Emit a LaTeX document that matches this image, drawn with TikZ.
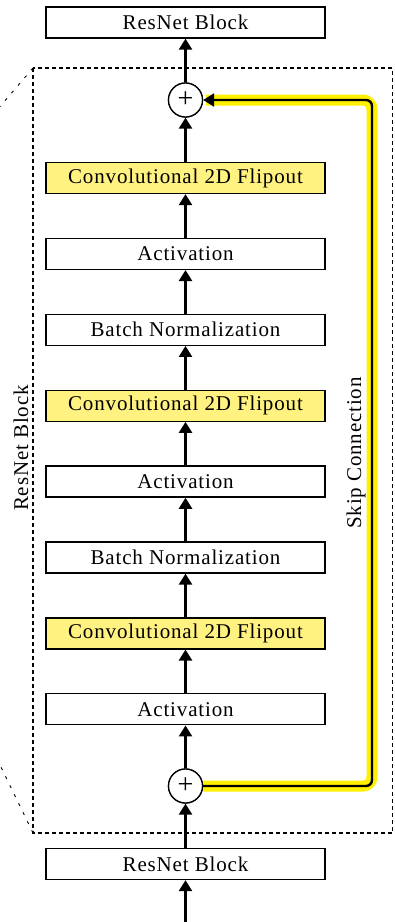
\documentclass[tikz,border=0pt]{standalone}
\usepackage{fontspec}
\setmainfont{Liberation Serif}[LetterSpace=4.0]
\usetikzlibrary{arrows.meta}
\definecolor{convfill}{RGB}{255,242,128}
\definecolor{skipglow}{RGB}{255,240,0}
\tikzset{
  layer/.style={draw=black, line width=1.3pt, minimum width=279pt, minimum height=31pt,
    inner sep=0pt, fill=white, font=\fontsize{21}{24}\selectfont},
  convlayer/.style={layer, fill=convfill},
  adder/.style={draw=black, line width=1.3pt, circle, minimum size=34pt, inner sep=0pt,
    fill=white, font=\fontsize{28}{30}\selectfont},
  flow/.style={line width=2.4pt, -{Triangle[width=13pt,length=11pt]}},
  frame/.style={line width=1.3pt, dash pattern=on 4pt off 3pt},
  zoomline/.style={line width=0.9pt, dash pattern=on 3pt off 7pt},
  sidelabel/.style={rotate=90, font=\fontsize{21}{24}\selectfont, inner sep=0pt}
}
\begin{document}
\begin{tikzpicture}[x=1pt,y=-1pt]
\useasboundingbox (0,0) rectangle (394,922);

% dashed frame of the expanded block and its zoom lines
\draw[frame] (33,68) rectangle (392.5,833);
\draw[zoomline] (33,68) -- (0,106.5);
\draw[zoomline] (33,833) -- (0,765);

% layers
\node[layer] (top) at (185.5,22.5) {ResNet Block};
\node[adder] (addtop) at (185.5,100) {+};
\node[convlayer] (c1) at (185.5,178) {Convolutional 2D Flipout};
\node[layer] (a1) at (185.5,253.9) {Activation};
\node[layer] (b1) at (185.5,329.8) {Batch Normalization};
\node[convlayer] (c2) at (185.5,405.7) {Convolutional 2D Flipout};
\node[layer] (a2) at (185.5,481.6) {Activation};
\node[layer] (b2) at (185.5,557.5) {Batch Normalization};
\node[convlayer] (c3) at (185.5,633.4) {Convolutional 2D Flipout};
\node[layer] (a3) at (185.5,709.3) {Activation};
\node[adder] (addbot) at (185.5,786) {+};
\node[layer] (bot) at (185.5,864) {ResNet Block};
\coordinate (in) at (185.5,922);

% forward path
\draw[flow] (in) -- (bot);
\draw[flow] (bot) -- (addbot);
\draw[flow] (addbot) -- (a3);
\draw[flow] (a3) -- (c3);
\draw[flow] (c3) -- (b2);
\draw[flow] (b2) -- (a2);
\draw[flow] (a2) -- (c2);
\draw[flow] (c2) -- (b1);
\draw[flow] (b1) -- (a1);
\draw[flow] (a1) -- (c1);
\draw[flow] (c1) -- (addtop);
\draw[flow] (addtop) -- (top);

% skip connection, highlighted
\draw[skipglow, line width=11pt, rounded corners=9pt]
  (addbot.east) -- (372,786) -- (372,100) -- ([xshift=3pt]addtop.east);
\draw[line width=2.4pt, rounded corners=6pt, -{Triangle[width=13pt,length=11pt]}]
  (addbot.east) -- (372,786) -- (372,100) -- (addtop.east);
\node[adder] (addtopfront) at (addtop) {+};
\node[adder] (addbotfront) at (addbot) {+};

% side labels
\node[sidelabel] (skiplabel) at (356,453) {Skip Connection};
\node[sidelabel] (blocklabel) at (21,448) {ResNet Block};
\end{tikzpicture}
\end{document}
